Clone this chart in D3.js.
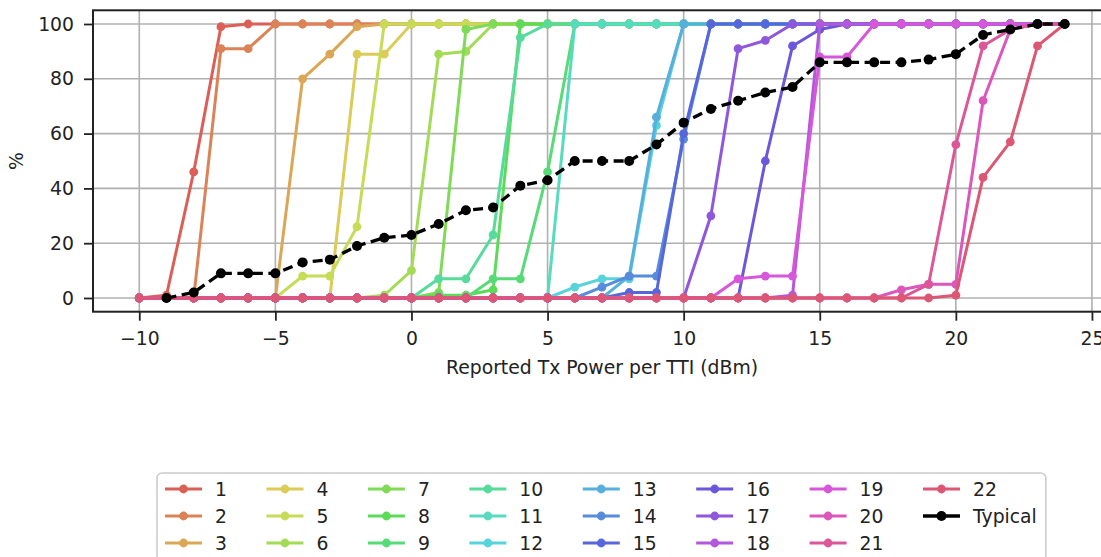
<!DOCTYPE html>
<html>
<head>
<meta charset="utf-8">
<script src="https://cdn.jsdelivr.net/npm/d3@7"></script>
<style>
  html, body { margin: 0; padding: 0; background: #fff; overflow: hidden; }
  text { font-family: "DejaVu Sans", sans-serif; }
</style>
</head>
<body>
<svg id="chart" width="1101" height="557"></svg>
<script>
// Reported Tx power per TTI (dBm), one sample per dB
const txPower = [-10, -9, -8, -7, -6, -5, -4, -3, -2, -1, 0, 1, 2, 3, 4, 5, 6,
  7, 8, 9, 10, 11, 12, 13, 14, 15, 16, 17, 18, 19, 20, 21, 22, 23, 24];

// Cumulative share (%) per device, grouped -10..-6 | -5..-1 | 0..4 | 5..9 | 10..14 | 15..19 | 20..24
const series1  = [0,1,46,99,100, 100,100,100,100,100, 100,100,100,100,100, 100,100,100,100,100, 100,100,100,100,100, 100,100,100,100,100, 100,100,100,100,100];
const series2  = [0,0,0,91,91, 100,100,100,100,100, 100,100,100,100,100, 100,100,100,100,100, 100,100,100,100,100, 100,100,100,100,100, 100,100,100,100,100];
const series3  = [0,0,0,0,0, 0,80,89,99,100, 100,100,100,100,100, 100,100,100,100,100, 100,100,100,100,100, 100,100,100,100,100, 100,100,100,100,100];
const series4  = [0,0,0,0,0, 0,0,0,89,89, 100,100,100,100,100, 100,100,100,100,100, 100,100,100,100,100, 100,100,100,100,100, 100,100,100,100,100];
const series5  = [0,0,0,0,0, 0,8,8,26,100, 100,100,100,100,100, 100,100,100,100,100, 100,100,100,100,100, 100,100,100,100,100, 100,100,100,100,100];
const series6  = [0,0,0,0,0, 0,0,0,0,1, 10,89,90,100,100, 100,100,100,100,100, 100,100,100,100,100, 100,100,100,100,100, 100,100,100,100,100];
const series7  = [0,0,0,0,0, 0,0,0,0,0, 0,2,98,100,100, 100,100,100,100,100, 100,100,100,100,100, 100,100,100,100,100, 100,100,100,100,100];
const series8  = [0,0,0,0,0, 0,0,0,0,0, 0,1,1,3,100, 100,100,100,100,100, 100,100,100,100,100, 100,100,100,100,100, 100,100,100,100,100];
const series9  = [0,0,0,0,0, 0,0,0,0,0, 0,0,0,7,7, 46,100,100,100,100, 100,100,100,100,100, 100,100,100,100,100, 100,100,100,100,100];
const series10 = [0,0,0,0,0, 0,0,0,0,0, 0,7,7,23,95, 100,100,100,100,100, 100,100,100,100,100, 100,100,100,100,100, 100,100,100,100,100];
const series11 = [0,0,0,0,0, 0,0,0,0,0, 0,0,0,0,0, 0,100,100,100,100, 100,100,100,100,100, 100,100,100,100,100, 100,100,100,100,100];
const series12 = [0,0,0,0,0, 0,0,0,0,0, 0,0,0,0,0, 0,4,7,7,63, 100,100,100,100,100, 100,100,100,100,100, 100,100,100,100,100];
const series13 = [0,0,0,0,0, 0,0,0,0,0, 0,0,0,0,0, 0,0,0,8,66, 100,100,100,100,100, 100,100,100,100,100, 100,100,100,100,100];
const series14 = [0,0,0,0,0, 0,0,0,0,0, 0,0,0,0,0, 0,0,4,8,8, 58,100,100,100,100, 100,100,100,100,100, 100,100,100,100,100];
const series15 = [0,0,0,0,0, 0,0,0,0,0, 0,0,0,0,0, 0,0,0,2,2, 60,100,100,100,100, 100,100,100,100,100, 100,100,100,100,100];
const series16 = [0,0,0,0,0, 0,0,0,0,0, 0,0,0,0,0, 0,0,0,0,0, 0,0,0,50,92, 98,100,100,100,100, 100,100,100,100,100];
const series17 = [0,0,0,0,0, 0,0,0,0,0, 0,0,0,0,0, 0,0,0,0,0, 0,30,91,94,100, 100,100,100,100,100, 100,100,100,100,100];
const series18 = [0,0,0,0,0, 0,0,0,0,0, 0,0,0,0,0, 0,0,0,0,0, 0,0,0,0,1, 100,100,100,100,100, 100,100,100,100,100];
const series19 = [0,0,0,0,0, 0,0,0,0,0, 0,0,0,0,0, 0,0,0,0,0, 0,0,7,8,8, 88,88,100,100,100, 100,100,100,100,100];
const series20 = [0,0,0,0,0, 0,0,0,0,0, 0,0,0,0,0, 0,0,0,0,0, 0,0,0,0,0, 0,0,0,3,5, 5,72,98,100,100];
const series21 = [0,0,0,0,0, 0,0,0,0,0, 0,0,0,0,0, 0,0,0,0,0, 0,0,0,0,0, 0,0,0,0,5, 56,92,98,100,100];
const series22 = [0,0,0,0,0, 0,0,0,0,0, 0,0,0,0,0, 0,0,0,0,0, 0,0,0,0,0, 0,0,0,0,0, 1,44,57,92,100];
const typical  = [null,0,2,9,9, 9,13,14,19,22, 23,27,32,33,41, 43,50,50,50,56, 64,69,72,75,77, 86,86,86,86,87, 89,96,98,100,100];

const deviceSeries = [series1, series2, series3, series4, series5, series6, series7, series8,
  series9, series10, series11, series12, series13, series14, series15, series16, series17,
  series18, series19, series20, series21, series22];
const deviceLabels = ["1","2","3","4","5","6","7","8","9","10","11","12","13","14","15",
  "16","17","18","19","20","21","22"];
const typicalLabel = "Typical";

const xTicks = [-10, -5, 0, 5, 10, 15, 20, 25];
const yTicks = [0, 20, 40, 60, 80, 100];
const xLabel = "Reported Tx Power per TTI (dBm)";
const yLabel = "%";

const FONT = "18.8px";

// evenly spaced hues, light and moderately saturated
const palette = deviceSeries.map((_, i) =>
  d3.hsl(((i / deviceSeries.length + 0.01) % 1) * 360, 0.65, 0.6).formatHex());

const svg = d3.select("#chart");
const x = d3.scaleLinear().domain([-11.7, 25.7]).range([93, 1111]);
const y = d3.scaleLinear().domain([-5, 105]).range([311.7, 10.3]);
const [x0, x1] = x.range();
const [yb, yt] = y.range();

// grid
const grid = svg.append("g").attr("stroke", "#b0b0b0").attr("stroke-width", 1.6);
grid.selectAll(".gx").data(xTicks).join("line")
  .attr("x1", d => x(d)).attr("x2", d => x(d)).attr("y1", yt).attr("y2", yb);
grid.selectAll(".gy").data(yTicks).join("line")
  .attr("x1", x0).attr("x2", x1).attr("y1", d => y(d)).attr("y2", d => y(d));

// series
const line = d3.line()
  .defined(d => d.v != null)
  .x(d => x(d.x)).y(d => y(d.v));

const toPoints = vals => txPower.map((t, i) => ({ x: t, v: vals[i] }));

const plot = svg.append("g");
deviceSeries.forEach((vals, i) => {
  const pts = toPoints(vals);
  const g = plot.append("g");
  g.append("path").datum(pts).attr("d", line)
    .attr("fill", "none").attr("stroke", palette[i]).attr("stroke-width", 3)
    .attr("stroke-linejoin", "round").attr("stroke-linecap", "round");
  g.selectAll("circle").data(pts.filter(d => d.v != null)).join("circle")
    .attr("cx", d => x(d.x)).attr("cy", d => y(d.v)).attr("r", 4.4)
    .attr("fill", palette[i]);
});
{
  const pts = toPoints(typical);
  const g = plot.append("g");
  g.append("path").datum(pts).attr("d", line)
    .attr("fill", "none").attr("stroke", "#000").attr("stroke-width", 3.3)
    .attr("stroke-dasharray", "10,5.5");
  g.selectAll("circle").data(pts.filter(d => d.v != null)).join("circle")
    .attr("cx", d => x(d.x)).attr("cy", d => y(d.v)).attr("r", 5)
    .attr("fill", "#000");
}

// axes
const xAxis = svg.append("g").attr("transform", `translate(0,${yb})`)
  .call(d3.axisBottom(x).tickValues(xTicks).tickFormat(d3.format("d")).tickSize(9).tickPadding(11).tickSizeOuter(0));
const yAxis = svg.append("g").attr("transform", `translate(${x0},0)`)
  .call(d3.axisLeft(y).tickValues(yTicks).tickFormat(d3.format("d")).tickSize(9).tickPadding(10).tickSizeOuter(0));
[xAxis, yAxis].forEach(a => {
  a.select(".domain").remove();
  a.selectAll(".tick line").attr("stroke", "#222").attr("stroke-width", 1.8);
  a.selectAll(".tick text").attr("fill", "#222").style("font-size", FONT)
    .style("font-family", "'DejaVu Sans', sans-serif");
});

// frame
svg.append("rect").attr("x", x0).attr("y", yt).attr("width", x1 - x0).attr("height", yb - yt)
  .attr("fill", "none").attr("stroke", "#222").attr("stroke-width", 2);

// axis titles
svg.append("text").attr("x", (x0 + x1) / 2).attr("y", 374)
  .attr("text-anchor", "middle").attr("fill", "#222").style("font-size", FONT).text(xLabel);
svg.append("text").attr("transform", `translate(23,${(yt + yb) / 2}) rotate(-90)`)
  .attr("text-anchor", "middle").attr("fill", "#222").style("font-size", FONT).text(yLabel);

// legend: three rows, filled column by column
const legendItems = deviceLabels.map((l, i) => ({ label: l, color: palette[i], typical: false }))
  .concat([{ label: typicalLabel, color: "#000", typical: true }]);
const rows = 3, handleLen = 37, textPad = 13, colGap = 39.5;
const legend = svg.append("g");
const box = legend.append("rect");
const rowY = r => 489 + r * 27;
let colX = 165;
const nCols = Math.ceil(legendItems.length / rows);
let rightEdge = colX;
for (let c = 0; c < nCols; c++) {
  const items = legendItems.slice(c * rows, c * rows + rows);
  let maxW = 0;
  items.forEach((it, r) => {
    const cy = rowY(r);
    legend.append("line").attr("x1", colX).attr("x2", colX + handleLen)
      .attr("y1", cy).attr("y2", cy).attr("stroke", it.color).attr("stroke-width", it.typical ? 3.3 : 3);
    legend.append("circle").attr("cx", colX + handleLen / 2).attr("cy", cy)
      .attr("r", it.typical ? 5 : 4.4).attr("fill", it.color);
    const t = legend.append("text").attr("x", colX + handleLen + textPad).attr("y", cy)
      .attr("dy", "0.36em").attr("fill", "#222").style("font-size", FONT).text(it.label);
    maxW = Math.max(maxW, t.node().getComputedTextLength());
  });
  rightEdge = colX + handleLen + textPad + maxW;
  colX = rightEdge + colGap;
}
box.attr("x", 157).attr("y", 473).attr("width", rightEdge + 9 - 157).attr("height", 100)
  .attr("rx", 5).attr("fill", "#fff").attr("fill-opacity", 0.8)
  .attr("stroke", "#cccccc").attr("stroke-width", 1.6);
</script>
</body>
</html>
